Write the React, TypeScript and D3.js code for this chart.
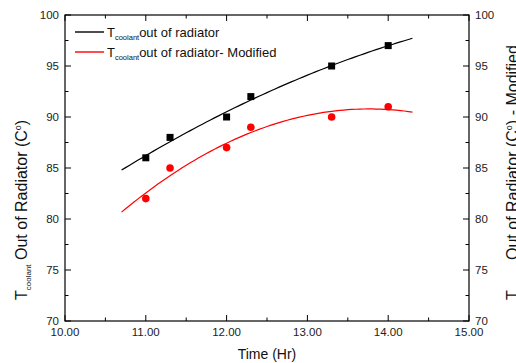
import React from 'react';
import * as d3 from 'd3';

// measured points
const timeHr = [11.0, 11.3, 12.0, 12.3, 13.3, 14.0];
const coolantOut = [86, 88, 90, 92, 95, 97];
const coolantOutModified = [82, 85, 87, 89, 90, 91];

const xTicks = [10, 11, 12, 13, 14, 15];
const yTicks = [70, 75, 80, 85, 90, 95, 100];
const fitRange = [10.7, 14.3];

// quadratic least-squares fit
function quadFit(xs: number[], ys: number[]) {
  const n = xs.length;
  let s1 = 0, s2 = 0, s3 = 0, s4 = 0, t0 = 0, t1 = 0, t2 = 0;
  for (let i = 0; i < n; i++) {
    const x = xs[i], y = ys[i];
    s1 += x; s2 += x * x; s3 += x ** 3; s4 += x ** 4;
    t0 += y; t1 += x * y; t2 += x * x * y;
  }
  const m = [
    [n, s1, s2, t0],
    [s1, s2, s3, t1],
    [s2, s3, s4, t2],
  ];
  for (let c = 0; c < 3; c++) {
    for (let r = c + 1; r < 3; r++) {
      const f = m[r][c] / m[c][c];
      for (let k = c; k < 4; k++) m[r][k] -= f * m[c][k];
    }
  }
  const b = [0, 0, 0];
  for (let r = 2; r >= 0; r--) {
    let s = m[r][3];
    for (let k = r + 1; k < 3; k++) s -= m[r][k] * b[k];
    b[r] = s / m[r][r];
  }
  return (x: number) => b[0] + b[1] * x + b[2] * x * x;
}

const margin = { top: 15, right: 47, bottom: 42, left: 65 };
const W = 516, H = 363;
const width = W - margin.left - margin.right;
const height = H - margin.top - margin.bottom;
const font = 'Liberation Sans, Arial, sans-serif';

export default function App() {
  const x = d3.scaleLinear().domain([10, 15]).range([0, width]);
  const y = d3.scaleLinear().domain([70, 100]).range([height, 0]);

  const fitA = quadFit(timeHr, coolantOut);
  const fitB = quadFit(timeHr, coolantOutModified);
  const samples = d3.range(fitRange[0], fitRange[1] + 0.001, 0.05);
  const line = d3.line<number>().x(d => x(d[0])).y(d => y(d[1]));
  const lineA = line(samples.map(t => [t, fitA(t)]) as any);
  const lineB = line(samples.map(t => [t, fitB(t)]) as any);

  const xMinor = d3.range(10, 15.001, 0.5);
  const yMinor = d3.range(70, 100.001, 2.5);

  return (
    <svg width={W} height={H} style={{ position: 'absolute', left: 0, top: 0, background: '#fff' }}
      fontFamily={font}>
      <g transform={`translate(${margin.left},${margin.top})`}>
        {/* frame */}
        <rect x={0} y={0} width={width} height={height} fill="none" stroke="#000" strokeWidth={1.2} />
        {/* x ticks bottom and top */}
        {xMinor.map(v => {
          const major = Math.abs(v - Math.round(v)) < 1e-6;
          const len = major ? 6 : 3.5;
          return (
            <g key={'x' + v}>
              <line x1={x(v)} x2={x(v)} y1={height} y2={height - len} stroke="#000" />
              <line x1={x(v)} x2={x(v)} y1={0} y2={len} stroke="#000" />
            </g>
          );
        })}
        {xTicks.map(v => (
          <text key={'xl' + v} x={x(v)} y={height + 15} fontSize={11.5} textAnchor="middle" fill="#222">
            {v.toFixed(2)}
          </text>
        ))}
        {/* y ticks left and right */}
        {yMinor.map(v => {
          const major = v % 5 === 0;
          const len = major ? 6 : 3.5;
          return (
            <g key={'y' + v}>
              <line x1={0} x2={len} y1={y(v)} y2={y(v)} stroke="#000" />
              <line x1={width} x2={width - len} y1={y(v)} y2={y(v)} stroke="#000" />
            </g>
          );
        })}
        {yTicks.map(v => (
          <g key={'yl' + v}>
            <text x={-6} y={y(v) + 4} fontSize={11.5} textAnchor="end" fill="#222">{v}</text>
            <text x={width + 6} y={y(v) + 4} fontSize={11.5} textAnchor="start" fill="#222">{v}</text>
          </g>
        ))}

        {/* fits */}
        <path d={lineA ?? ''} fill="none" stroke="#000" strokeWidth={1.2} />
        <path d={lineB ?? ''} fill="none" stroke="#ff0000" strokeWidth={1.2} />

        {/* points */}
        {timeHr.map((t, i) => (
          <rect key={'s' + i} x={x(t) - 3.5} y={y(coolantOut[i]) - 3.5} width={7} height={7} fill="#000" />
        ))}
        {timeHr.map((t, i) => (
          <circle key={'c' + i} cx={x(t)} cy={y(coolantOutModified[i])} r={3.8} fill="#ff0000" />
        ))}

        {/* legend */}
        <g transform="translate(10,17)">
          <line x1={0} x2={29} y1={0} y2={0} stroke="#000" strokeWidth={1.4} />
          <text x={32} y={5} fontSize={13} fill="#111">
            T<tspan fontSize={7.5} dy={3}>coolant</tspan><tspan dy={-3}>out of radiator</tspan>
          </text>
          <line x1={0} x2={29} y1={20} y2={20} stroke="#ff0000" strokeWidth={1.4} />
          <text x={32} y={25} fontSize={13} fill="#111">
            T<tspan fontSize={7.5} dy={3}>coolant</tspan><tspan dy={-3}>out of radiator- Modified</tspan>
          </text>
        </g>

        {/* axis titles */}
        <text x={width / 2} y={height + 38} fontSize={14} textAnchor="middle" fill="#111">Time (Hr)</text>
      </g>
      <text transform="translate(27,300) rotate(-90)" fontSize={16} fill="#111">
        T<tspan fontSize={8} dy={4}>coolant</tspan><tspan dy={-4}> Out of Radiator (C</tspan>
        <tspan fontSize={9} dy={-6}>o</tspan><tspan dy={6}>)</tspan>
      </text>
      <text transform="translate(518,300) rotate(-90)" fontSize={16} fill="#111">
        T<tspan fontSize={8} dy={4}>coolant</tspan><tspan dy={-4}> Out of Radiator (C</tspan>
        <tspan fontSize={9} dy={-6}>o</tspan><tspan dy={6}>) - Modified</tspan>
      </text>
    </svg>
  );
}
